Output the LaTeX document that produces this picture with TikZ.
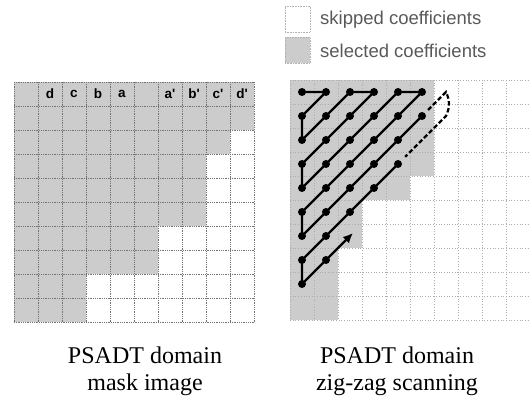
\documentclass[tikz,border=0pt]{standalone}
\usepackage{fontspec}
\setmainfont{Liberation Serif}
\newfontfamily\legfont{Liberation Sans}
\usetikzlibrary{arrows.meta,calc}
\begin{document}
\begin{tikzpicture}[x=1pt,y=-1pt,
  lgrid/.style={black!55, line width=0.8pt, densely dotted},
  rgrid/.style={gray!65, line width=0.7pt, dotted},
  shadecell/.style={fill=gray!40},
  zz/.style={line width=2.2pt, black},
  zzdash/.style={line width=2.2pt, black, dash pattern=on 4.5pt off 2.5pt},
  dotn/.style={circle, fill=black, inner sep=0pt, minimum size=8pt},
  lbl/.style={font=\legfont\bfseries\fontsize{13.5}{13.5}\selectfont, inner sep=0pt},
  legtxt/.style={font=\legfont\fontsize{18.5}{18.5}\selectfont, text=black!65, anchor=west, inner sep=0pt},
  captext/.style={font=\fontsize{24}{27}\selectfont, anchor=base, inner sep=0pt},
  legbox/.style={draw=gray!60, densely dotted, line width=0.6pt, minimum width=25pt, minimum height=26pt, inner sep=0pt}
]
\useasboundingbox (0,0) rectangle (529,403);
\clip (0,0) rectangle (529,403);

% ---------- left grid: mask image ----------
\foreach \r/\n in {0/10,1/10,2/9,3/8,4/8,5/8,6/6,7/6,8/3,9/3}
  \fill[shadecell] (14,{82+24*\r}) rectangle ({14+24*\n},{106+24*\r});
\foreach \i in {0,...,10} {
  \draw[lgrid] ({14+24*\i},82) -- ({14+24*\i},322);
  \draw[lgrid] (14,{82+24*\i}) -- (254,{82+24*\i});
}
\foreach \c/\t in {1/d,2/c,3/b,4/a,6/a',7/b',8/c',9/d'}
  \node[lbl] (L\c) at ({14+24*\c+12},94) {\t};

% ---------- right grid: zig-zag scanning ----------
\foreach \r/\n in {0/6,1/6,2/6,3/6,4/5,5/3,6/3,7/2,8/2,9/2}
  \fill[shadecell] (290,{80+24*\r}) rectangle ({290+24*\n},{104+24*\r});
\foreach \i in {0,...,10} {
  \draw[rgrid] ({290+24*\i},80) -- ({290+24*\i},320);
  \draw[rgrid] (290,{80+24*\i}) -- (530,{80+24*\i});
}
\foreach \c in {0,...,6}
  \foreach \r in {0,...,8}
    \coordinate (p\c\r) at ({302+24*\c},{92+24*\r});

\draw[zz] (p00)--(p10)--(p01)--(p02)--(p20)--(p30)--(p03)--(p04)--(p40)--(p50)--(p05)--(p06)--(p51);
\draw[zzdash] ($(p51)!0.25!(p60)$) -- (p60) to[bend left=25] (p61) -- ($(p61)!0.85!(p43)$);
\draw[zz,-{Latex[length=10pt,width=9pt]}] (p43)--(p07)--(p08)--($(p26)+(3,-3)$);

\foreach \c/\r in {0/0,1/0,2/0,3/0,4/0,5/0,
                   0/1,1/1,2/1,3/1,4/1,5/1,
                   0/2,1/2,2/2,3/2,4/2,
                   0/3,1/3,2/3,3/3,4/3,
                   0/4,1/4,2/4,3/4,
                   0/5,1/5,2/5,
                   0/6,1/6,
                   0/7,1/7,
                   0/8}
  \node[dotn] (d\c\r) at (p\c\r) {};

% ---------- legend ----------
\node[legbox] (skipbox) at (297.5,19) {};
\node[legbox, fill=gray!40] (selbox) at (297.5,50.5) {};
\node[legtxt] (skiptxt) at (320,20) {skipped coefficients};
\node[legtxt] (seltxt) at (320,51) {selected coefficients};

% ---------- captions ----------
\node[captext] (c1a) at (145,363) {PSADT domain};
\node[captext] (c1b) at (145,390) {mask image};
\node[captext] (c2a) at (397,363) {PSADT domain};
\node[captext] (c2b) at (397,390) {zig-zag scanning};
\end{tikzpicture}
\end{document}
